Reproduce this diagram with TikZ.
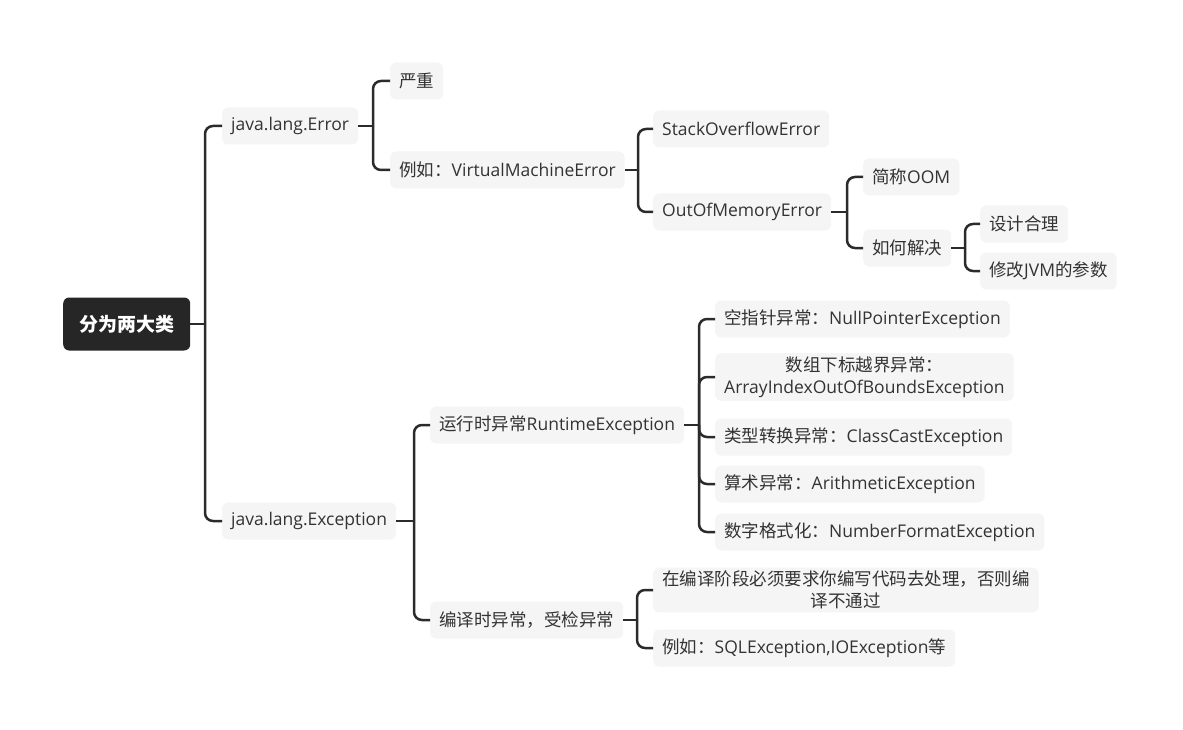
\documentclass[tikz,border=0pt]{standalone}
\usepackage{fontspec}
\setmainfont{Open Sans}
\newfontfamily\cjk{Noto Sans CJK SC}
\newcommand{\zh}[1]{{\cjk #1}}
\usetikzlibrary{positioning}
\definecolor{boxgray}{HTML}{F5F5F5}
\definecolor{txtgray}{HTML}{333333}
\definecolor{linegray}{HTML}{2B2B2B}
\definecolor{rootgray}{HTML}{262626}

\begin{document}
\begin{tikzpicture}[x=1pt, y=-1pt,
  rootbox/.style={fill=rootgray, text=white, rounded corners=6pt, anchor=west,
    inner xsep=16pt, minimum height=53pt, font=\fontsize{19}{23}\selectfont\bfseries},
  item/.style={fill=boxgray, text=txtgray, rounded corners=6pt, anchor=west,
    inner xsep=9pt, minimum height=37pt, font=\fontsize{17.5}{22}\selectfont},
  link/.style={draw=linegray, line width=2.5pt, rounded corners=8pt}]
 \useasboundingbox (0,0) rectangle (1183,730);

 % root and the two classes
 \node [rootbox] (root) at (63,324) {\zh{分为两大类}};
 \node [item] (err) at (222,126) {java.lang.Error};
 \node [item] (exc) at (222,521) {java.lang.Exception};

 % Error branch
 \node [item] (sev) at (390,81) {\zh{严重}};
 \node [item] (vme) at (390,170) {\zh{例如：}VirtualMachineError};
 \node [item] (soe) at (653,129) {StackOverflowError};
 \node [item] (oom) at (653,212) {OutOfMemoryError};
 \node [item] (abbr) at (863,177) {\zh{简称}OOM};
 \node [item] (fix) at (863,248) {\zh{如何解决}};
 \node [item] (design) at (980,224) {\zh{设计合理}};
 \node [item] (jvm) at (980,271) {\zh{修改}JVM\zh{的参数}};

 % Exception branch
 \node [item] (rte) at (430,425) {\zh{运行时异常}RuntimeException};
 \node [item] (npe) at (715,319) {\zh{空指针异常：}NullPointerException};
 \node [item, align=center] (aioobe) at (715,377) {\zh{数组下标越界异常：}\\ArrayIndexOutOfBoundsException};
 \node [item] (cce) at (715,437) {\zh{类型转换异常：}ClassCastException};
 \node [item] (ae) at (715,484) {\zh{算术异常：}ArithmeticException};
 \node [item] (nfe) at (715,532) {\zh{数字格式化：}NumberFormatException};
 \node [item] (chk) at (430,620) {\zh{编译时异常，受检异常}};
 \node [item, align=center] (must) at (653,590) {\zh{在编译阶段必须要求你编写代码去处理，否则编}\\\zh{译不通过}};
 \node [item] (sql) at (653,648) {\zh{例如：}SQLException,IOException\zh{等}};

 % junctions
 \coordinate (rootj) at (205,324);
 \coordinate (errj) at (373,126);
 \coordinate (vmej) at (638,170);
 \coordinate (oomj) at (847,212);
 \coordinate (fixj) at (965,248);
 \coordinate (excj) at (414,521);
 \coordinate (rtej) at (699,425);
 \coordinate (chkj) at (637,620);

 % connectors
 \draw [link] (root.east) -- (rootj);
 \foreach \c in {err,exc} \draw [link] (rootj) |- (\c.west);
 \draw [link] (err.east) -- (errj);
 \foreach \c in {sev,vme} \draw [link] (errj) |- (\c.west);
 \draw [link] (vme.east) -- (vmej);
 \foreach \c in {soe,oom} \draw [link] (vmej) |- (\c.west);
 \draw [link] (oom.east) -- (oomj);
 \foreach \c in {abbr,fix} \draw [link] (oomj) |- (\c.west);
 \draw [link] (fix.east) -- (fixj);
 \foreach \c in {design,jvm} \draw [link] (fixj) |- (\c.west);
 \draw [link] (exc.east) -- (excj);
 \foreach \c in {rte,chk} \draw [link] (excj) |- (\c.west);
 \draw [link] (rte.east) -- (rtej);
 \foreach \c in {npe,aioobe,cce,ae,nfe} \draw [link] (rtej) |- (\c.west);
 \draw [link] (chk.east) -- (chkj);
 \foreach \c in {must,sql} \draw [link] (chkj) |- (\c.west);
\end{tikzpicture}
\end{document}
